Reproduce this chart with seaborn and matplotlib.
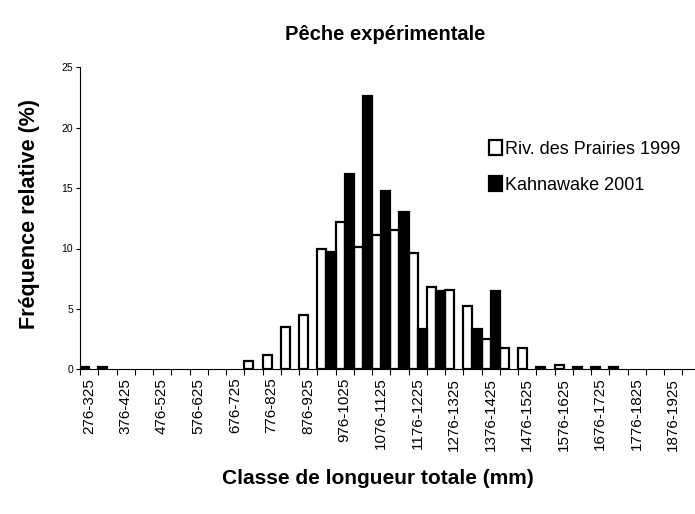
import numpy as np
import pandas as pd
import matplotlib
matplotlib.use("Agg")
import matplotlib.pyplot as plt
import seaborn as sns

sns.set_theme(style="white")
plt.rcParams['font.family'] = ['Liberation Sans', 'DejaVu Sans']
plt.rcParams['text.color'] = 'black'
plt.rcParams['xtick.color'] = 'black'
plt.rcParams['ytick.color'] = 'black'
plt.rcParams['axes.labelcolor'] = 'black'

# classes de longueur (mm), pas de 50 mm
classes = [f"{a}-{a + 49}" for a in range(276, 1926, 50)]

prairies_1999 = [0.2, 0.2, 0, 0, 0, 0, 0, 0, 0, 0.7, 1.2, 3.5, 4.5, 10.0, 12.2, 10.1,
                 11.1, 11.5, 9.6, 6.8, 6.6, 5.2, 2.5, 1.8, 1.8, 0.2, 0.35, 0.2, 0.2, 0.2,
                 0, 0, 0]
kahnawake_2001 = [0, 0, 0, 0, 0, 0, 0, 0, 0, 0, 0, 0, 0, 9.7, 16.2, 22.6,
                  14.8, 13.0, 3.3, 6.5, 0, 3.3, 6.5, 0, 0, 0, 0, 0, 0, 0,
                  0, 0, 0]
series = ["Riv. des Prairies 1999", "Kahnawake 2001"]

df = pd.DataFrame({
    "classe": classes * 2,
    "freq": prairies_1999 + kahnawake_2001,
    "serie": [series[0]] * len(classes) + [series[1]] * len(classes),
})

fig = plt.figure(figsize=(6.95, 5.14), dpi=100)
ax = fig.add_axes([80 / 695, 144.7 / 514, 615 / 695, 302 / 514])

sns.barplot(data=df, x="classe", y="freq", hue="serie", order=classes,
            hue_order=series, palette={series[0]: "white", series[1]: "black"},
            width=1.0, edgecolor="black", linewidth=1.6, saturation=1,
            legend=True, ax=ax)

# pas de contour sur les barres nulles
for p in ax.patches:
    if p.get_height() == 0:
        p.set_linewidth(0)

ax.set_ylim(0, 25)
ax.set_xlim(-0.5, -0.5 + 615 / 18.25)
ax.set_yticks([0, 5, 10, 15, 20, 25])
ax.tick_params(axis="y", labelsize=7.5, length=3, direction="out", left=True, width=0.8, pad=2)

ax.set_xticks(range(0, len(classes), 2))
ax.set_xticklabels(classes[::2], rotation=90, fontsize=11)
ax.set_xticks(np.arange(-0.5, len(classes), 1), minor=True)
ax.tick_params(axis="x", which="major", length=0, pad=6)
ax.tick_params(axis="x", which="minor", length=4, direction="out", bottom=True, width=0.8)

for s in ["top", "right"]:
    ax.spines[s].set_visible(False)
for s in ["left", "bottom"]:
    ax.spines[s].set_color("black")
    ax.spines[s].set_linewidth(0.8)

ax.set_xlabel("")
ax.set_ylabel("")
fig.text(0.554, 1 - 35 / 514, "Pêche expérimentale", ha="center", va="center",
         fontsize=14.5, fontweight="bold")
fig.text(0.543, 1 - 478 / 514, "Classe de longueur totale (mm)", ha="center",
         va="center", fontsize=15, fontweight="bold")
fig.text(30 / 695, 1 - 214 / 514, "Fréquence relative (%)", ha="center",
         va="center", rotation=90, fontsize=15.5, fontweight="bold")

handles, labels = ax.get_legend_handles_labels()
for h in handles:
    h.set_edgecolor("black")
    h.set_linewidth(1.6)
ax.legend(handles, labels, loc="upper left", bbox_to_anchor=(482 / 695, 1 - 133 / 514),
          bbox_transform=fig.transFigure, frameon=False, fontsize=13,
          handlelength=0.7, handleheight=0.9, handletextpad=0.2, labelspacing=1.0,
          borderaxespad=0)

fig.savefig("out.png", dpi=100)
